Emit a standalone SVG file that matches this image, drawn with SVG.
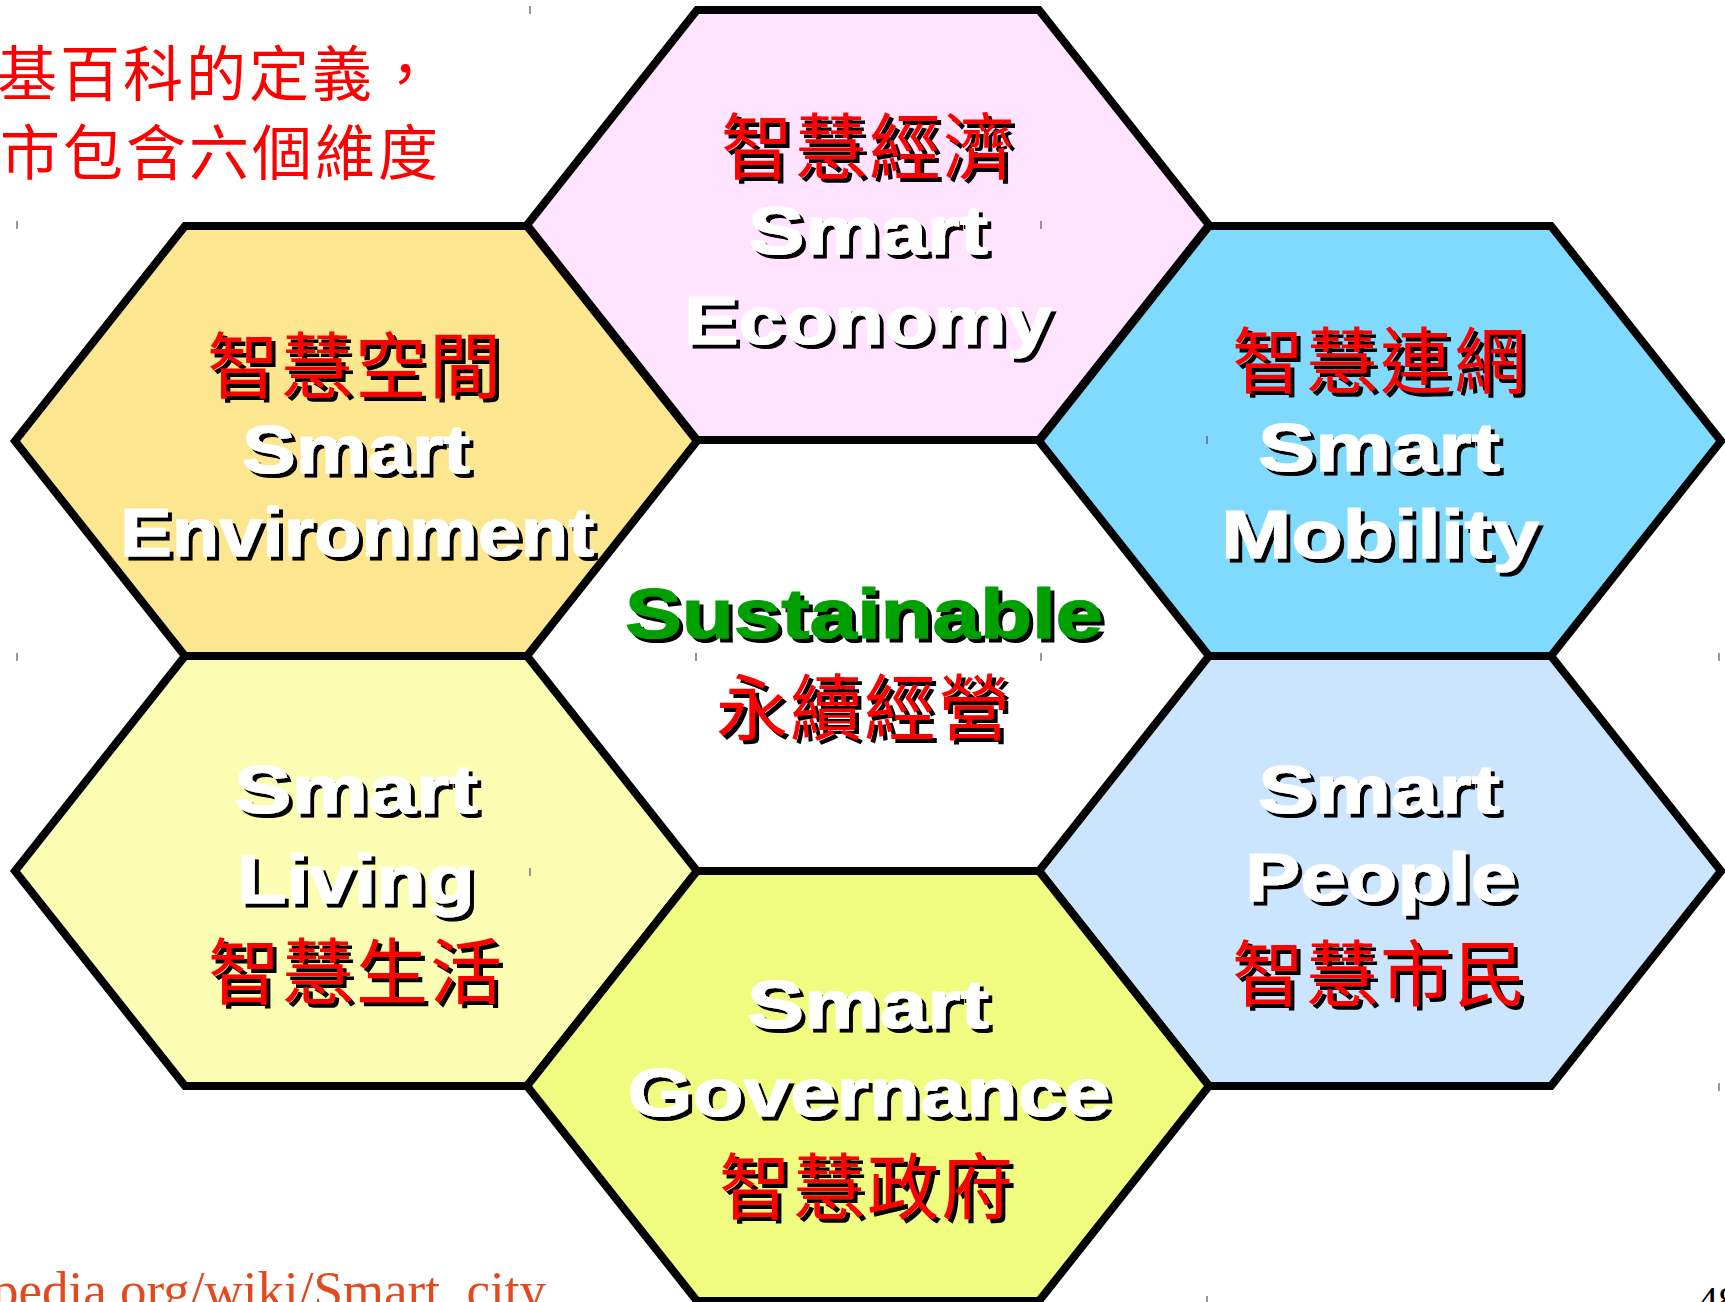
<svg xmlns="http://www.w3.org/2000/svg" width="1725" height="1302" viewBox="0 0 1725 1302">
<style>
.hex{stroke:#000;stroke-width:8;stroke-linejoin:miter}
.en{font-family:"Liberation Sans",Arial,sans-serif;font-weight:bold;font-size:68px;fill:#fff;stroke:#fff;stroke-width:1.2px;text-anchor:middle}
.zh{font-family:"Noto Sans CJK TC","Noto Sans CJK SC",sans-serif;font-size:72px;fill:#f00;text-anchor:middle;letter-spacing:2px}
.gr{font-family:"Liberation Sans",Arial,sans-serif;font-weight:bold;font-size:70px;fill:#00a000;stroke:#00a000;stroke-width:1.2px;text-anchor:middle}
.note{font-family:"Noto Sans CJK TC","Noto Sans CJK SC",sans-serif;font-size:60px;fill:#f00;letter-spacing:3px}
.url{font-family:"Liberation Serif","Times New Roman",serif;font-size:53px;fill:#e24a1e}
.pg{font-family:"Liberation Serif","Times New Roman",serif;font-size:40px;fill:#000}
.tick{stroke:#555;stroke-width:1.2}
</style>
<defs>
<filter id="sh" x="-5%" y="-10%" width="115%" height="130%">
<feOffset in="SourceAlpha" dx="4" dy="4" result="o"/>
<feMerge><feMergeNode in="o"/><feMergeNode in="SourceGraphic"/></feMerge>
</filter>
</defs>
<rect width="1725" height="1302" fill="#fff"/>

<g id="center">
<polygon points="697,441 1039,441 1209,656 1039,871 697,871 527,656" fill="#fff"/>
</g>

<g id="economy">
<polygon class="hex" points="697,10 1039,10 1209,225 1039,440 697,440 527,225" fill="#ffe3ff"/>
</g>
<g id="environment">
<polygon class="hex" points="185,226 527,226 697,441 527,656 185,656 15,441" fill="#fce690"/>
</g>
<g id="mobility">
<polygon class="hex" points="1209,226 1551,226 1721,441 1551,656 1209,656 1039,441" fill="#80dafe"/>
</g>
<g id="living">
<polygon class="hex" points="185,656 527,656 697,871 527,1086 185,1086 15,871" fill="#fbfdb3"/>
</g>
<g id="people">
<polygon class="hex" points="1209,656 1551,656 1721,871 1551,1086 1209,1086 1039,871" fill="#cce5fe"/>
</g>
<g id="governance">
<polygon class="hex" points="697,871 1039,871 1209,1086 1039,1301 697,1301 527,1086" fill="#f0fc80"/>
</g>

<g id="connectors"></g>

<g id="labels" filter="url(#sh)">
<g id="economy-text">
<text class="zh" x="869" y="173">智慧經濟</text>
<text class="en" x="868" y="254" textLength="240" lengthAdjust="spacingAndGlyphs">Smart</text>
<text class="en" x="868" y="344" textLength="368" lengthAdjust="spacingAndGlyphs">Economy</text>
</g>
<g id="environment-text">
<text class="zh" x="355" y="392">智慧空間</text>
<text class="en" x="356" y="473" textLength="228" lengthAdjust="spacingAndGlyphs">Smart</text>
<text class="en" x="357" y="556" textLength="474" lengthAdjust="spacingAndGlyphs">Environment</text>
</g>
<g id="mobility-text">
<text class="zh" x="1380" y="387">智慧連網</text>
<text class="en" x="1379" y="471" textLength="242" lengthAdjust="spacingAndGlyphs">Smart</text>
<text class="en" x="1380" y="558" textLength="318" lengthAdjust="spacingAndGlyphs">Mobility</text>
</g>
<g id="center-text">
<text class="gr" x="864" y="638" textLength="478" lengthAdjust="spacingAndGlyphs">Sustainable</text>
<text class="zh" x="864" y="734">永續經營</text>
</g>
<g id="living-text">
<text class="en" x="356" y="813" textLength="244" lengthAdjust="spacingAndGlyphs">Smart</text>
<text class="en" x="356" y="903" textLength="238" lengthAdjust="spacingAndGlyphs">Living</text>
<text class="zh" x="356" y="998">智慧生活</text>
</g>
<g id="people-text">
<text class="en" x="1379" y="813" textLength="242" lengthAdjust="spacingAndGlyphs">Smart</text>
<text class="en" x="1381" y="901" textLength="272" lengthAdjust="spacingAndGlyphs">People</text>
<text class="zh" x="1380" y="1000">智慧市民</text>
</g>
<g id="governance-text">
<text class="en" x="868" y="1028" textLength="242" lengthAdjust="spacingAndGlyphs">Smart</text>
<text class="en" x="869" y="1116" textLength="483" lengthAdjust="spacingAndGlyphs">Governance</text>
<text class="zh" x="867" y="1213">智慧政府</text>
</g>
</g>

<g id="note">
<text class="note" x="-3" y="96">基百科的定義，</text>
<text class="note" x="0" y="175">市包含六個維度</text>
</g>
<text id="source" class="url" x="-8" y="1308">pedia.org/wiki/Smart_city</text>
<text id="page" class="pg" x="1698" y="1314">48</text>

<g id="ticks" class="tick">
<line x1="530" y1="6" x2="530" y2="14"/>
<line x1="17" y1="221" x2="17" y2="229"/>
<line x1="1041" y1="221" x2="1041" y2="229"/>
<line x1="1207" y1="436" x2="1207" y2="444"/>
<line x1="17" y1="653" x2="17" y2="661"/>
<line x1="696" y1="653" x2="696" y2="661"/>
<line x1="1041" y1="653" x2="1041" y2="661"/>
<line x1="1719" y1="653" x2="1719" y2="661"/>
<line x1="530" y1="868" x2="530" y2="876"/>
<line x1="1719" y1="1083" x2="1719" y2="1091"/>
<line x1="1207" y1="1296" x2="1207" y2="1302"/>
</g>
</svg>
